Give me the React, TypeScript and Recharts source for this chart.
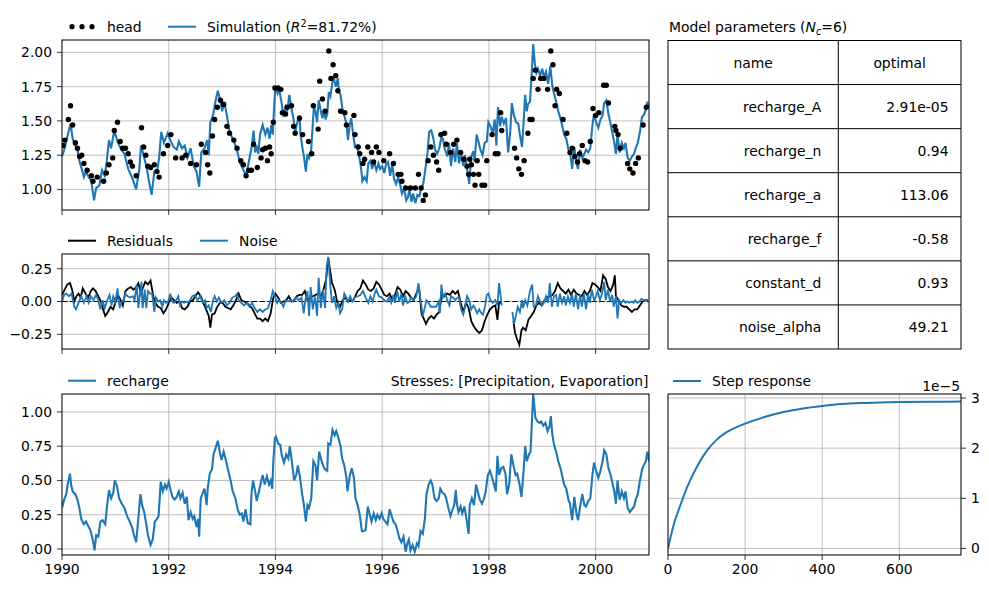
import {
  ComposedChart,
  LineChart,
  Line,
  Scatter,
  XAxis,
  YAxis,
  CartesianGrid,
  ReferenceLine,
} from "recharts";

type Pt = [number, number | null];

const BLUE = "#1f77b4";
const GRID = "#b0b0b0";
const FONT = "'DejaVu Sans', sans-serif";
const FS = 13.9;

// observed head (decimal year, m)
const headObs: Pt[] = [
  [1990.02, 1.32], [1990.05, 1.36], [1990.12, 1.51], [1990.16, 1.61], [1990.2, 1.47], [1990.25, 1.34],
  [1990.29, 1.3], [1990.33, 1.24], [1990.37, 1.25], [1990.41, 1.19], [1990.47, 1.14], [1990.55, 1.1],
  [1990.58, 1.06], [1990.66, 1.09], [1990.78, 1.06], [1990.83, 1.12], [1990.88, 1.18], [1990.95, 1.23],
  [1990.98, 1.43], [1991.04, 1.49], [1991.09, 1.35], [1991.14, 1.3], [1991.19, 1.3], [1991.24, 1.26],
  [1991.28, 1.2], [1991.32, 1.17], [1991.39, 1.1], [1991.49, 1.45], [1991.53, 1.31], [1991.57, 1.25],
  [1991.61, 1.17], [1991.66, 1.16], [1991.73, 1.18], [1991.78, 1.13], [1991.82, 1.09], [1991.9, 1.26],
  [1991.98, 1.32], [1992.04, 1.4], [1992.13, 1.23], [1992.25, 1.23], [1992.32, 1.25], [1992.41, 1.19],
  [1992.52, 1.18], [1992.61, 1.33], [1992.69, 1.27], [1992.73, 1.18], [1992.77, 1.12], [1992.82, 1.39],
  [1992.86, 1.51], [1992.91, 1.6], [1992.97, 1.65], [1993.03, 1.62], [1993.09, 1.46], [1993.14, 1.41],
  [1993.22, 1.36], [1993.28, 1.3], [1993.35, 1.21], [1993.4, 1.18], [1993.45, 1.1], [1993.5, 1.14],
  [1993.55, 1.14], [1993.59, 1.33], [1993.66, 1.16], [1993.73, 1.23], [1993.76, 1.29], [1993.81, 1.3],
  [1993.85, 1.21], [1993.89, 1.31], [1993.92, 1.26], [1993.96, 1.49], [1993.99, 1.74], [1994.05, 1.74],
  [1994.1, 1.73], [1994.13, 1.56], [1994.19, 1.55], [1994.22, 1.6], [1994.3, 1.61], [1994.34, 1.46],
  [1994.37, 1.41], [1994.45, 1.52], [1994.51, 1.4], [1994.62, 1.35], [1994.68, 1.26], [1994.71, 1.61],
  [1994.8, 1.44], [1994.83, 1.79], [1994.88, 1.66], [1994.93, 1.57], [1995.0, 2.01], [1995.04, 1.81],
  [1995.08, 1.91], [1995.13, 1.83], [1995.17, 1.72], [1995.22, 1.57], [1995.3, 1.56], [1995.33, 1.47],
  [1995.47, 1.54], [1995.49, 1.4], [1995.55, 1.31], [1995.58, 1.26], [1995.64, 1.19], [1995.67, 1.22],
  [1995.73, 1.31], [1995.8, 1.27], [1995.84, 1.2], [1995.89, 1.31], [1995.94, 1.27], [1996.03, 1.21],
  [1996.14, 1.26], [1996.21, 1.19], [1996.3, 1.11], [1996.35, 1.11], [1996.37, 1.06], [1996.44, 1.01],
  [1996.53, 1.01], [1996.62, 1.01], [1996.68, 1.11], [1996.73, 1.01], [1996.77, 0.92], [1996.81, 0.96],
  [1996.86, 1.21], [1996.91, 1.31], [1996.96, 1.25], [1997.02, 1.2], [1997.06, 1.14], [1997.1, 1.4],
  [1997.17, 1.41], [1997.2, 1.33], [1997.28, 1.27], [1997.34, 1.33], [1997.4, 1.36], [1997.47, 1.27],
  [1997.53, 1.22], [1997.59, 1.17], [1997.62, 1.11], [1997.64, 1.22], [1997.67, 1.18], [1997.71, 1.11],
  [1997.74, 1.03], [1997.78, 1.21], [1997.81, 1.11], [1997.87, 1.03], [1997.92, 1.03], [1997.96, 1.21],
  [1998.06, 1.4], [1998.12, 1.26], [1998.17, 1.26], [1998.22, 1.56], [1998.24, 1.43], [1998.48, 1.3],
  [1998.52, 1.23], [1998.56, 1.15], [1998.61, 1.11], [1998.66, 1.21], [1998.73, 1.41], [1998.77, 1.51],
  [1998.81, 1.51], [1998.83, 1.81], [1998.87, 1.87], [1998.92, 1.73], [1998.97, 1.81], [1999.03, 1.81],
  [1999.1, 1.73], [1999.16, 2.01], [1999.2, 1.91], [1999.24, 1.61], [1999.27, 1.73], [1999.32, 1.7],
  [1999.39, 1.51], [1999.46, 1.41], [1999.52, 1.27], [1999.56, 1.3], [1999.61, 1.24], [1999.66, 1.2],
  [1999.7, 1.26], [1999.75, 1.32], [1999.8, 1.21], [1999.85, 1.2], [1999.9, 1.35], [1999.95, 1.59],
  [2000.0, 1.54], [2000.06, 1.56], [2000.15, 1.76], [2000.2, 1.76], [2000.24, 1.63], [2000.36, 1.46],
  [2000.38, 1.43], [2000.42, 1.4], [2000.46, 1.3], [2000.6, 1.19], [2000.64, 1.15], [2000.7, 1.12],
  [2000.75, 1.19], [2000.8, 1.23], [2000.89, 1.47], [2000.95, 1.6],
];

// simulated head
const simulation: Pt[] = [
  [1990.0, 1.24], [1990.05, 1.3], [1990.11, 1.4], [1990.16, 1.48], [1990.2, 1.37], [1990.25, 1.32],
  [1990.29, 1.29], [1990.33, 1.2], [1990.37, 1.15], [1990.41, 1.09], [1990.45, 1.13], [1990.5, 1.09],
  [1990.55, 1.06], [1990.6, 0.92], [1990.64, 1.01], [1990.7, 1.03], [1990.75, 1.14], [1990.8, 1.1],
  [1990.84, 1.21], [1990.88, 1.36], [1990.92, 1.3], [1990.98, 1.43], [1991.04, 1.35], [1991.11, 1.29],
  [1991.17, 1.26], [1991.24, 1.15], [1991.32, 1.08], [1991.39, 1.0], [1991.45, 1.15], [1991.48, 1.32],
  [1991.53, 1.25], [1991.59, 1.15], [1991.63, 1.06], [1991.68, 0.96], [1991.73, 1.13], [1991.79, 1.15],
  [1991.82, 1.23], [1991.86, 1.42], [1991.91, 1.34], [1991.98, 1.41], [1992.04, 1.35], [1992.09, 1.31],
  [1992.15, 1.29], [1992.19, 1.35], [1992.25, 1.3], [1992.3, 1.32], [1992.35, 1.23], [1992.41, 1.3],
  [1992.47, 1.17], [1992.52, 1.13], [1992.57, 1.02], [1992.61, 1.27], [1992.67, 1.3], [1992.72, 1.36],
  [1992.75, 1.25], [1992.78, 1.49], [1992.83, 1.54], [1992.88, 1.65], [1992.92, 1.72], [1992.97, 1.64],
  [1993.0, 1.57], [1993.04, 1.64], [1993.09, 1.54], [1993.14, 1.42], [1993.22, 1.35], [1993.27, 1.3],
  [1993.33, 1.2], [1993.39, 1.15], [1993.45, 1.1], [1993.5, 1.2], [1993.56, 1.32], [1993.59, 1.43],
  [1993.62, 1.27], [1993.65, 1.32], [1993.68, 1.26], [1993.71, 1.4], [1993.76, 1.47], [1993.81, 1.4],
  [1993.85, 1.45], [1993.89, 1.37], [1993.92, 1.47], [1993.95, 1.4], [1993.98, 1.64], [1994.0, 1.75],
  [1994.04, 1.7], [1994.07, 1.73], [1994.12, 1.62], [1994.15, 1.53], [1994.19, 1.6], [1994.22, 1.57],
  [1994.26, 1.69], [1994.3, 1.59], [1994.34, 1.51], [1994.37, 1.42], [1994.41, 1.49], [1994.45, 1.54],
  [1994.47, 1.4], [1994.51, 1.29], [1994.53, 1.25], [1994.57, 1.13], [1994.6, 1.26], [1994.63, 1.23],
  [1994.67, 1.29], [1994.7, 1.48], [1994.72, 1.6], [1994.75, 1.57], [1994.78, 1.49], [1994.81, 1.65],
  [1994.84, 1.59], [1994.88, 1.52], [1994.91, 1.57], [1994.94, 1.51], [1994.97, 1.55], [1995.0, 1.71],
  [1995.03, 1.68], [1995.07, 1.79], [1995.09, 1.82], [1995.13, 1.75], [1995.17, 1.81], [1995.19, 1.71],
  [1995.22, 1.69], [1995.25, 1.6], [1995.29, 1.54], [1995.33, 1.48], [1995.36, 1.36], [1995.39, 1.47],
  [1995.42, 1.52], [1995.45, 1.42], [1995.49, 1.31], [1995.53, 1.32], [1995.56, 1.26], [1995.6, 1.17],
  [1995.63, 1.06], [1995.67, 1.09], [1995.71, 1.06], [1995.74, 1.19], [1995.78, 1.21], [1995.81, 1.15],
  [1995.85, 1.2], [1995.89, 1.14], [1995.93, 1.19], [1995.96, 1.15], [1996.0, 1.17], [1996.04, 1.12],
  [1996.07, 1.18], [1996.11, 1.2], [1996.15, 1.1], [1996.19, 1.19], [1996.22, 1.08], [1996.26, 1.04],
  [1996.3, 1.09], [1996.34, 1.03], [1996.37, 0.97], [1996.41, 1.01], [1996.45, 0.92], [1996.48, 0.94],
  [1996.51, 1.0], [1996.55, 0.91], [1996.58, 0.97], [1996.62, 0.9], [1996.66, 0.96], [1996.7, 0.95],
  [1996.73, 1.01], [1996.77, 1.04], [1996.81, 1.15], [1996.85, 1.27], [1996.88, 1.42], [1996.92, 1.43],
  [1996.96, 1.37], [1996.99, 1.29], [1997.03, 1.26], [1997.07, 1.3], [1997.11, 1.38], [1997.14, 1.37],
  [1997.17, 1.3], [1997.22, 1.24], [1997.25, 1.34], [1997.29, 1.17], [1997.33, 1.3], [1997.37, 1.2],
  [1997.4, 1.34], [1997.44, 1.19], [1997.48, 1.26], [1997.52, 1.17], [1997.55, 1.25], [1997.59, 1.15],
  [1997.63, 1.04], [1997.67, 1.24], [1997.71, 1.28], [1997.73, 1.2], [1997.77, 1.4], [1997.81, 1.34],
  [1997.84, 1.29], [1997.88, 1.25], [1997.92, 1.34], [1997.96, 1.35], [1997.99, 1.49], [1998.03, 1.46],
  [1998.07, 1.41], [1998.11, 1.51], [1998.14, 1.32], [1998.17, 1.6], [1998.21, 1.46], [1998.24, 1.53],
  [1998.28, 1.48], [1998.32, 1.52], [1998.36, 1.27], [1998.4, 1.42], [1998.43, 1.63], [1998.47, 1.54],
  [1998.51, 1.49], [1998.55, 1.48], [1998.58, 1.4], [1998.62, 1.31], [1998.65, 1.49], [1998.68, 1.69],
  [1998.71, 1.57], [1998.73, 1.62], [1998.77, 1.64], [1998.8, 1.83], [1998.83, 2.06], [1998.86, 1.92],
  [1998.89, 1.85], [1998.92, 1.88], [1998.96, 1.83], [1999.0, 1.88], [1999.03, 1.82], [1999.07, 1.86],
  [1999.11, 1.77], [1999.15, 1.9], [1999.19, 1.75], [1999.22, 1.7], [1999.26, 1.64], [1999.3, 1.57],
  [1999.34, 1.52], [1999.37, 1.47], [1999.41, 1.4], [1999.45, 1.37], [1999.49, 1.29], [1999.52, 1.27],
  [1999.56, 1.15], [1999.6, 1.31], [1999.64, 1.19], [1999.67, 1.15], [1999.71, 1.29], [1999.75, 1.23],
  [1999.79, 1.26], [1999.82, 1.29], [1999.86, 1.27], [1999.9, 1.3], [1999.94, 1.47], [1999.97, 1.55],
  [2000.01, 1.49], [2000.05, 1.45], [2000.09, 1.51], [2000.13, 1.54], [2000.16, 1.63], [2000.2, 1.65],
  [2000.24, 1.55], [2000.28, 1.48], [2000.31, 1.42], [2000.35, 1.34], [2000.38, 1.26], [2000.41, 1.4],
  [2000.45, 1.27], [2000.49, 1.34], [2000.53, 1.3], [2000.56, 1.34], [2000.6, 1.23], [2000.64, 1.21],
  [2000.68, 1.24], [2000.72, 1.26], [2000.75, 1.3], [2000.79, 1.34], [2000.83, 1.42], [2000.87, 1.53],
  [2000.9, 1.54], [2000.94, 1.58], [2000.97, 1.64], [2001.0, 1.59],
];

// residuals (observed - simulated); null marks the data gap in 1998
const residuals: Pt[] = [
  [1990.0, 0.05], [1990.05, 0.09], [1990.1, 0.13], [1990.15, 0.14], [1990.19, 0.09], [1990.23, 0.0],
  [1990.27, 0.04], [1990.31, 0.06], [1990.35, 0.03], [1990.39, 0.1], [1990.44, 0.06], [1990.49, 0.03],
  [1990.54, 0.08], [1990.58, 0.1], [1990.63, 0.08], [1990.68, 0.04], [1990.73, 0.0], [1990.77, -0.06],
  [1990.81, -0.11], [1990.86, -0.08], [1990.91, -0.04], [1990.96, -0.06], [1991.0, -0.01], [1991.05, 0.05],
  [1991.1, 0.01], [1991.14, -0.03], [1991.19, 0.08], [1991.24, 0.1], [1991.29, 0.11], [1991.34, 0.09],
  [1991.39, 0.11], [1991.43, 0.14], [1991.48, 0.06], [1991.51, 0.1], [1991.56, 0.15], [1991.61, 0.13],
  [1991.66, 0.16], [1991.71, 0.04], [1991.75, -0.01], [1991.8, -0.04], [1991.85, -0.05], [1991.9, -0.09],
  [1991.95, -0.06], [1992.0, -0.01], [1992.05, 0.03], [1992.1, 0.01], [1992.15, -0.01], [1992.2, 0.0],
  [1992.25, -0.05], [1992.3, -0.06], [1992.35, -0.04], [1992.4, 0.0], [1992.45, 0.01], [1992.5, 0.04],
  [1992.55, 0.07], [1992.6, 0.04], [1992.65, -0.01], [1992.7, -0.06], [1992.75, -0.11], [1992.78, -0.2],
  [1992.81, -0.1], [1992.86, -0.09], [1992.91, -0.04], [1992.96, -0.01], [1993.01, -0.01], [1993.06, -0.04],
  [1993.11, -0.05], [1993.16, -0.06], [1993.21, -0.03], [1993.26, 0.01], [1993.31, 0.06], [1993.36, 0.01],
  [1993.41, 0.0], [1993.46, -0.01], [1993.51, -0.03], [1993.56, -0.05], [1993.61, -0.09], [1993.66, -0.13],
  [1993.71, -0.13], [1993.76, -0.15], [1993.81, -0.13], [1993.86, -0.15], [1993.91, -0.09], [1993.96, 0.03],
  [1994.0, 0.06], [1994.05, 0.03], [1994.1, -0.01], [1994.15, 0.0], [1994.2, 0.01], [1994.25, 0.04],
  [1994.3, 0.0], [1994.35, 0.01], [1994.4, 0.04], [1994.45, 0.05], [1994.5, 0.05], [1994.55, 0.08],
  [1994.6, 0.01], [1994.65, 0.03], [1994.7, 0.04], [1994.75, 0.05], [1994.8, 0.06], [1994.85, 0.04],
  [1994.9, 0.09], [1994.95, 0.17], [1994.99, 0.33], [1995.03, 0.22], [1995.06, 0.14], [1995.11, 0.09],
  [1995.16, -0.01], [1995.21, -0.04], [1995.26, 0.01], [1995.31, 0.03], [1995.36, 0.0], [1995.41, 0.01],
  [1995.46, 0.01], [1995.54, 0.08], [1995.59, 0.1], [1995.64, 0.16], [1995.69, 0.13], [1995.74, 0.09],
  [1995.79, 0.08], [1995.84, 0.1], [1995.89, 0.15], [1995.94, 0.13], [1995.99, 0.09], [1996.04, 0.05],
  [1996.09, 0.04], [1996.14, 0.06], [1996.19, 0.01], [1996.24, 0.05], [1996.29, 0.11], [1996.34, 0.09],
  [1996.39, 0.04], [1996.44, 0.08], [1996.49, 0.06], [1996.54, 0.03], [1996.59, 0.01], [1996.64, 0.06],
  [1996.69, 0.11], [1996.74, -0.1], [1996.78, -0.13], [1996.82, -0.17], [1996.87, -0.13], [1996.92, -0.11],
  [1996.97, -0.13], [1997.02, -0.1], [1997.07, -0.08], [1997.12, 0.06], [1997.17, 0.04], [1997.22, 0.06],
  [1997.27, 0.05], [1997.32, 0.08], [1997.37, 0.06], [1997.42, 0.08], [1997.47, -0.01], [1997.52, -0.08],
  [1997.57, -0.01], [1997.62, -0.05], [1997.67, -0.15], [1997.72, -0.19], [1997.77, -0.22], [1997.82, -0.24],
  [1997.87, -0.22], [1997.92, -0.15], [1997.97, -0.1], [1998.02, -0.06], [1998.07, -0.04], [1998.12, -0.03],
  [1998.16, -0.14], [1998.19, -0.01], [1998.24, -0.01], [1998.34, null], [1998.46, -0.15], [1998.49, -0.24],
  [1998.53, -0.29], [1998.57, -0.33], [1998.61, -0.22], [1998.64, -0.2], [1998.69, -0.22], [1998.74, -0.14],
  [1998.79, -0.11], [1998.84, -0.08], [1998.89, -0.03], [1998.94, -0.01], [1998.99, -0.03], [1999.04, 0.01],
  [1999.09, 0.03], [1999.14, 0.04], [1999.19, 0.05], [1999.24, 0.08], [1999.29, 0.14], [1999.34, 0.1],
  [1999.39, 0.08], [1999.44, 0.06], [1999.49, 0.09], [1999.54, 0.05], [1999.59, 0.09], [1999.64, 0.06],
  [1999.69, 0.05], [1999.74, 0.04], [1999.79, 0.08], [1999.84, 0.05], [1999.89, 0.08], [1999.94, 0.14],
  [1999.99, 0.13], [2000.04, 0.11], [2000.09, 0.08], [2000.14, 0.2], [2000.19, 0.17], [2000.23, 0.11],
  [2000.28, 0.08], [2000.33, 0.13], [2000.36, 0.2], [2000.38, 0.04], [2000.43, 0.01], [2000.48, -0.03],
  [2000.53, -0.04], [2000.58, -0.04], [2000.63, -0.06], [2000.68, -0.08], [2000.73, -0.06], [2000.78, -0.06],
  [2000.83, -0.03], [2000.88, 0.0], [2000.93, 0.01], [2000.98, 0.01],
];

// noise model innovations
const noise: Pt[] = [
  [1990.0, 0.0], [1990.04, 0.05], [1990.08, 0.06], [1990.13, 0.04], [1990.18, 0.06], [1990.23, -0.04],
  [1990.26, -0.06], [1990.31, -0.01], [1990.36, 0.04], [1990.41, -0.01], [1990.46, 0.04], [1990.5, -0.01],
  [1990.54, 0.04], [1990.59, 0.01], [1990.64, 0.05], [1990.68, 0.01], [1990.72, -0.06], [1990.76, 0.01],
  [1990.8, -0.05], [1990.85, 0.01], [1990.89, 0.05], [1990.93, -0.03], [1990.96, 0.04], [1991.0, 0.0],
  [1991.04, 0.1], [1991.08, -0.05], [1991.11, -0.01], [1991.15, 0.01], [1991.19, 0.06], [1991.23, 0.04],
  [1991.28, 0.03], [1991.33, 0.04], [1991.36, 0.01], [1991.4, 0.13], [1991.43, -0.05], [1991.46, 0.05],
  [1991.49, 0.15], [1991.51, -0.05], [1991.55, 0.09], [1991.58, -0.05], [1991.61, 0.08], [1991.65, 0.06],
  [1991.69, 0.06], [1991.73, -0.08], [1991.76, 0.03], [1991.8, 0.0], [1991.84, 0.01], [1991.88, -0.04],
  [1991.91, 0.01], [1991.95, -0.01], [1991.99, 0.0], [1992.03, 0.06], [1992.06, 0.0], [1992.1, -0.01],
  [1992.14, 0.01], [1992.18, 0.04], [1992.21, -0.03], [1992.25, 0.0], [1992.29, -0.01], [1992.33, 0.0],
  [1992.36, -0.01], [1992.4, 0.01], [1992.44, 0.04], [1992.49, 0.05], [1992.54, 0.01], [1992.59, 0.04],
  [1992.64, -0.01], [1992.68, 0.01], [1992.71, -0.05], [1992.75, -0.03], [1992.79, -0.08], [1992.83, 0.01],
  [1992.86, 0.04], [1992.9, 0.0], [1992.94, 0.03], [1992.99, -0.01], [1993.04, 0.01], [1993.09, -0.03],
  [1993.14, -0.01], [1993.19, 0.03], [1993.24, 0.04], [1993.28, 0.06], [1993.31, 0.01], [1993.36, -0.01],
  [1993.41, -0.03], [1993.46, -0.01], [1993.51, -0.04], [1993.56, -0.01], [1993.61, -0.05], [1993.66, -0.08],
  [1993.71, -0.06], [1993.76, -0.08], [1993.81, -0.06], [1993.86, -0.05], [1993.91, 0.01], [1993.95, 0.08],
  [1993.99, 0.04], [1994.03, -0.01], [1994.06, 0.01], [1994.11, -0.01], [1994.15, -0.04], [1994.19, 0.01],
  [1994.24, 0.0], [1994.29, 0.01], [1994.34, 0.0], [1994.39, 0.03], [1994.44, 0.01], [1994.49, 0.03],
  [1994.53, -0.09], [1994.56, 0.01], [1994.6, 0.08], [1994.63, -0.11], [1994.66, 0.11], [1994.7, -0.06],
  [1994.74, 0.04], [1994.78, -0.11], [1994.81, 0.18], [1994.85, -0.05], [1994.89, 0.09], [1994.93, -0.05],
  [1994.96, 0.27], [1994.99, 0.34], [1995.03, 0.11], [1995.06, -0.01], [1995.1, 0.04], [1995.14, -0.05],
  [1995.18, -0.01], [1995.21, -0.09], [1995.25, -0.06], [1995.29, 0.06], [1995.33, 0.03], [1995.36, 0.0],
  [1995.4, 0.04], [1995.44, 0.0], [1995.48, 0.03], [1995.54, 0.04], [1995.59, 0.05], [1995.64, 0.08],
  [1995.69, 0.03], [1995.74, -0.01], [1995.78, 0.04], [1995.82, 0.0], [1995.86, 0.06], [1995.89, 0.09],
  [1995.94, 0.04], [1995.99, 0.03], [1996.04, 0.01], [1996.09, 0.0], [1996.13, 0.03], [1996.17, -0.01],
  [1996.21, 0.05], [1996.24, -0.01], [1996.28, 0.08], [1996.32, 0.0], [1996.36, 0.06], [1996.39, -0.03],
  [1996.43, 0.04], [1996.47, -0.01], [1996.51, 0.0], [1996.54, 0.03], [1996.59, 0.01], [1996.64, 0.04],
  [1996.68, 0.14], [1996.72, 0.01], [1996.76, -0.11], [1996.79, -0.06], [1996.83, 0.01], [1996.87, -0.01],
  [1996.91, -0.04], [1996.96, -0.04], [1997.01, -0.04], [1997.06, 0.0], [1997.08, -0.09], [1997.11, 0.13],
  [1997.14, 0.03], [1997.18, 0.06], [1997.22, 0.01], [1997.26, -0.03], [1997.29, 0.04], [1997.33, 0.03],
  [1997.37, 0.01], [1997.41, 0.03], [1997.44, 0.03], [1997.48, -0.06], [1997.52, -0.1], [1997.56, -0.03],
  [1997.59, 0.04], [1997.63, 0.01], [1997.67, -0.06], [1997.71, -0.03], [1997.74, -0.05], [1997.78, -0.09],
  [1997.82, -0.06], [1997.86, -0.09], [1997.89, -0.1], [1997.93, -0.03], [1997.96, 0.05], [1997.99, 0.06],
  [1998.03, 0.01], [1998.07, -0.01], [1998.12, 0.01], [1998.16, -0.03], [1998.19, 0.14], [1998.24, -0.03],
  [1998.34, null], [1998.44, -0.08], [1998.47, -0.17], [1998.51, -0.1], [1998.54, -0.04], [1998.58, -0.08],
  [1998.62, 0.01], [1998.64, -0.05], [1998.68, 0.01], [1998.72, -0.03], [1998.77, 0.08], [1998.81, 0.13],
  [1998.84, -0.04], [1998.88, -0.03], [1998.92, 0.04], [1998.96, 0.0], [1998.99, -0.03], [1999.03, -0.01],
  [1999.07, 0.04], [1999.11, -0.01], [1999.14, 0.14], [1999.18, -0.04], [1999.22, 0.04], [1999.26, 0.05],
  [1999.29, -0.04], [1999.33, 0.06], [1999.37, -0.01], [1999.41, 0.04], [1999.44, -0.03], [1999.48, 0.04],
  [1999.52, -0.01], [1999.56, 0.06], [1999.59, -0.04], [1999.63, 0.06], [1999.67, -0.06], [1999.71, 0.05],
  [1999.74, -0.04], [1999.78, 0.06], [1999.82, -0.06], [1999.86, 0.06], [1999.89, -0.01], [1999.93, 0.09],
  [1999.97, 0.01], [2000.01, 0.04], [2000.04, 0.08], [2000.08, 0.01], [2000.12, 0.06], [2000.16, 0.15],
  [2000.19, 0.01], [2000.23, 0.09], [2000.27, 0.0], [2000.31, 0.05], [2000.34, -0.04], [2000.38, 0.04],
  [2000.41, -0.13], [2000.44, 0.01], [2000.48, -0.01], [2000.52, 0.01], [2000.56, -0.01], [2000.59, 0.0],
  [2000.63, -0.01], [2000.67, 0.0], [2000.71, -0.01], [2000.74, 0.01], [2000.78, -0.01], [2000.82, 0.0],
  [2000.86, 0.02], [2000.89, 0.01], [2000.93, 0.01], [2000.98, 0.01],
];

// recharge contribution
const recharge: Pt[] = [
  [1990.0, 0.3], [1990.04, 0.36], [1990.08, 0.4], [1990.11, 0.48], [1990.15, 0.55], [1990.17, 0.47],
  [1990.2, 0.42], [1990.25, 0.4], [1990.29, 0.36], [1990.33, 0.29], [1990.36, 0.22], [1990.41, 0.18],
  [1990.45, 0.2], [1990.5, 0.16], [1990.53, 0.14], [1990.57, 0.08], [1990.61, -0.01], [1990.64, 0.1],
  [1990.68, 0.09], [1990.72, 0.2], [1990.76, 0.21], [1990.81, 0.18], [1990.84, 0.3], [1990.88, 0.43],
  [1990.92, 0.37], [1990.96, 0.41], [1990.99, 0.5], [1991.03, 0.46], [1991.07, 0.37], [1991.12, 0.33],
  [1991.17, 0.3], [1991.22, 0.24], [1991.27, 0.2], [1991.32, 0.15], [1991.35, 0.1], [1991.39, 0.05],
  [1991.43, 0.22], [1991.47, 0.4], [1991.5, 0.32], [1991.54, 0.27], [1991.58, 0.18], [1991.61, 0.1],
  [1991.66, 0.03], [1991.7, 0.07], [1991.74, 0.2], [1991.78, 0.22], [1991.81, 0.24], [1991.85, 0.49],
  [1991.89, 0.42], [1991.93, 0.47], [1991.96, 0.44], [1992.0, 0.49], [1992.04, 0.42], [1992.07, 0.38],
  [1992.11, 0.36], [1992.15, 0.38], [1992.19, 0.42], [1992.22, 0.37], [1992.26, 0.41], [1992.3, 0.33],
  [1992.34, 0.38], [1992.37, 0.21], [1992.41, 0.27], [1992.45, 0.22], [1992.48, 0.24], [1992.52, 0.16],
  [1992.55, 0.22], [1992.57, 0.09], [1992.6, 0.37], [1992.63, 0.4], [1992.67, 0.44], [1992.71, 0.32],
  [1992.73, 0.44], [1992.77, 0.55], [1992.81, 0.58], [1992.84, 0.69], [1992.88, 0.74], [1992.92, 0.79],
  [1992.96, 0.7], [1992.99, 0.65], [1993.03, 0.71], [1993.07, 0.65], [1993.11, 0.58], [1993.16, 0.5],
  [1993.2, 0.42], [1993.25, 0.37], [1993.29, 0.29], [1993.33, 0.25], [1993.37, 0.26], [1993.4, 0.2],
  [1993.44, 0.29], [1993.48, 0.19], [1993.53, 0.18], [1993.55, 0.4], [1993.58, 0.5], [1993.62, 0.42],
  [1993.65, 0.35], [1993.69, 0.42], [1993.73, 0.49], [1993.76, 0.54], [1993.8, 0.47], [1993.84, 0.53],
  [1993.88, 0.47], [1993.91, 0.5], [1993.94, 0.44], [1993.96, 0.64], [1993.99, 0.81], [1994.01, 0.82],
  [1994.05, 0.77], [1994.09, 0.76], [1994.12, 0.68], [1994.16, 0.63], [1994.2, 0.69], [1994.24, 0.66],
  [1994.27, 0.75], [1994.31, 0.63], [1994.35, 0.5], [1994.39, 0.54], [1994.42, 0.61], [1994.46, 0.52],
  [1994.5, 0.4], [1994.53, 0.33], [1994.57, 0.2], [1994.6, 0.32], [1994.63, 0.3], [1994.67, 0.37],
  [1994.71, 0.64], [1994.75, 0.61], [1994.78, 0.5], [1994.82, 0.71], [1994.86, 0.65], [1994.89, 0.61],
  [1994.93, 0.58], [1994.97, 0.57], [1994.99, 0.77], [1995.03, 0.76], [1995.07, 0.87], [1995.11, 0.83],
  [1995.14, 0.86], [1995.18, 0.81], [1995.22, 0.75], [1995.25, 0.66], [1995.29, 0.61], [1995.33, 0.52],
  [1995.35, 0.42], [1995.39, 0.53], [1995.43, 0.59], [1995.47, 0.52], [1995.5, 0.37], [1995.54, 0.32],
  [1995.58, 0.25], [1995.62, 0.13], [1995.65, 0.13], [1995.69, 0.14], [1995.73, 0.31], [1995.76, 0.26],
  [1995.8, 0.2], [1995.84, 0.26], [1995.88, 0.21], [1995.91, 0.25], [1995.95, 0.22], [1995.99, 0.26],
  [1996.02, 0.22], [1996.06, 0.2], [1996.1, 0.18], [1996.14, 0.29], [1996.17, 0.25], [1996.21, 0.2],
  [1996.25, 0.18], [1996.29, 0.13], [1996.32, 0.08], [1996.36, 0.05], [1996.4, 0.09], [1996.44, -0.02],
  [1996.47, 0.04], [1996.5, 0.07], [1996.53, -0.01], [1996.57, 0.03], [1996.61, -0.02], [1996.65, 0.04],
  [1996.68, 0.02], [1996.72, 0.13], [1996.76, 0.11], [1996.8, 0.22], [1996.83, 0.4], [1996.87, 0.47],
  [1996.91, 0.5], [1996.94, 0.47], [1996.98, 0.37], [1997.02, 0.35], [1997.06, 0.37], [1997.09, 0.44],
  [1997.13, 0.41], [1997.17, 0.4], [1997.2, 0.37], [1997.24, 0.3], [1997.28, 0.24], [1997.32, 0.29],
  [1997.35, 0.32], [1997.38, 0.43], [1997.4, 0.33], [1997.43, 0.27], [1997.47, 0.31], [1997.5, 0.26],
  [1997.54, 0.31], [1997.58, 0.22], [1997.62, 0.11], [1997.64, 0.32], [1997.68, 0.37], [1997.72, 0.32],
  [1997.76, 0.47], [1997.79, 0.42], [1997.83, 0.36], [1997.87, 0.33], [1997.91, 0.37], [1997.94, 0.42],
  [1997.98, 0.54], [1998.02, 0.57], [1998.06, 0.52], [1998.09, 0.48], [1998.13, 0.42], [1998.16, 0.68],
  [1998.19, 0.54], [1998.23, 0.59], [1998.27, 0.6], [1998.31, 0.55], [1998.34, 0.4], [1998.38, 0.47],
  [1998.42, 0.69], [1998.46, 0.61], [1998.5, 0.54], [1998.53, 0.55], [1998.57, 0.48], [1998.61, 0.38],
  [1998.65, 0.57], [1998.68, 0.75], [1998.71, 0.64], [1998.75, 0.69], [1998.78, 0.71], [1998.81, 0.96],
  [1998.83, 1.13], [1998.85, 1.05], [1998.87, 0.96], [1998.91, 0.93], [1998.95, 0.92], [1998.98, 0.93],
  [1999.02, 0.9], [1999.06, 0.92], [1999.1, 0.86], [1999.14, 0.9], [1999.16, 0.97], [1999.19, 0.83],
  [1999.22, 0.76], [1999.26, 0.71], [1999.3, 0.64], [1999.34, 0.59], [1999.37, 0.54], [1999.41, 0.47],
  [1999.45, 0.44], [1999.49, 0.36], [1999.52, 0.33], [1999.56, 0.21], [1999.6, 0.38], [1999.64, 0.26],
  [1999.67, 0.21], [1999.71, 0.31], [1999.75, 0.4], [1999.79, 0.32], [1999.82, 0.31], [1999.86, 0.35],
  [1999.9, 0.37], [1999.94, 0.54], [1999.97, 0.63], [2000.01, 0.57], [2000.05, 0.52], [2000.09, 0.57],
  [2000.13, 0.64], [2000.16, 0.72], [2000.2, 0.69], [2000.24, 0.59], [2000.28, 0.54], [2000.31, 0.49],
  [2000.35, 0.42], [2000.38, 0.33], [2000.41, 0.5], [2000.45, 0.36], [2000.49, 0.42], [2000.53, 0.37],
  [2000.56, 0.42], [2000.6, 0.3], [2000.64, 0.27], [2000.68, 0.29], [2000.72, 0.31], [2000.75, 0.36],
  [2000.79, 0.4], [2000.83, 0.5], [2000.87, 0.58], [2000.9, 0.61], [2000.94, 0.64], [2000.97, 0.71],
  [2001.0, 0.64],
];

// step response of the recharge stress, values in units of 1e-5
const stepLag = [0, 5, 10, 15, 25, 40, 50, 75, 100, 125, 150, 175, 200, 250, 300, 350, 400, 450, 500, 550, 600, 700, 760];
const stepValue = [0, 0.17, 0.33, 0.48, 0.71, 1.03, 1.23, 1.63, 1.94, 2.16, 2.31, 2.41, 2.49, 2.62, 2.72, 2.79, 2.84, 2.88, 2.9, 2.91, 2.92, 2.925, 2.93];

// optimal model parameters
const paramNames = ["recharge_A", "recharge_n", "recharge_a", "recharge_f", "constant_d", "noise_alpha"];
const paramOptimal = ["2.91e-05", "0.94", "113.06", "-0.58", "0.93", "49.21"];

// axis ticks
const yearTicks = [1990, 1992, 1994, 1996, 1998, 2000];
const headTicks = [1.0, 1.25, 1.5, 1.75, 2.0];
const resTicks = [-0.25, 0, 0.25];
const rchTicks = [0, 0.25, 0.5, 0.75, 1.0];
const stepXTicks = [0, 200, 400, 600];
const stepYTicks = [0, 1, 2, 3];

// plot areas in page pixels
const HEAD_BOX = { x: 62, y: 40, w: 587, h: 170 };
const RES_BOX = { x: 62, y: 254, w: 587, h: 95 };
const RCH_BOX = { x: 62, y: 394, w: 587, h: 161 };
const STEP_BOX = { x: 668, y: 394, w: 293, h: 161 };
const LEFT_W = 660;
const TOP_PAD = 24;

const rows = (pts: Pt[]) => pts.map(([t, v]) => ({ t, v }));
const stepRows = stepLag.map((t, i) => ({ t, v: stepValue[i] }));

const tickStyle = { fill: "#000", fontSize: FS, fontFamily: FONT };
const tickLineStyle = { stroke: "#000", strokeWidth: 0.8 };
const blank = () => "";
const fmt2 = (v: number) => (v < 0 ? "\u2212" + Math.abs(v).toFixed(2) : v.toFixed(2));

const dot = (p: any) => <circle cx={p.cx} cy={p.cy} r={2.7} fill="#000" />;

function timeAxis(labels: boolean) {
  return (
    <XAxis
      type="number"
      dataKey="t"
      domain={[1990, 2001]}
      ticks={yearTicks}
      interval={0}
      allowDataOverflow
      axisLine={false}
      tickLine={tickLineStyle}
      tickSize={5}
      tickMargin={4}
      tick={tickStyle}
      tickFormatter={labels ? (v: number) => String(v) : blank}
      height={labels ? 30 : 8}
    />
  );
}

function valueAxis(domain: [number, number], ticks: number[]) {
  return (
    <YAxis
      type="number"
      domain={domain}
      ticks={ticks}
      interval={0}
      allowDataOverflow
      width={62}
      axisLine={false}
      tickLine={tickLineStyle}
      tickSize={5}
      tickMargin={5}
      tick={tickStyle}
      tickFormatter={fmt2}
    />
  );
}

const leftMargin = { top: TOP_PAD, right: LEFT_W - 62 - 587, bottom: 0, left: 0 };

function Overlay() {
  const frames = [HEAD_BOX, RES_BOX, RCH_BOX, STEP_BOX];
  const tblX = 668;
  const tblY = 40.5;
  const tblW = 293;
  const tblH = 308.5;
  const colSplit = 838.3;
  const rowH = tblH / (paramNames.length + 1);
  return (
    <svg
      width={989}
      height={589}
      style={{ position: "absolute", left: 0, top: 0, pointerEvents: "none" }}
      fontFamily={FONT}
      fontSize={FS}
    >
      {frames.map((b, i) => (
        <rect key={i} x={b.x} y={b.y} width={b.w} height={b.h} fill="none" stroke="#000" strokeWidth={0.9} />
      ))}

      {/* head panel legend */}
      <circle cx={72} cy={26.7} r={2.6} fill="#000" />
      <circle cx={82} cy={26.7} r={2.6} fill="#000" />
      <circle cx={92} cy={26.7} r={2.6} fill="#000" />
      <text x={107} y={32}>head</text>
      <line x1={168} x2={196} y1={26.7} y2={26.7} stroke={BLUE} strokeWidth={2} />
      <text x={207} y={32}>
        Simulation (<tspan fontStyle="italic">R</tspan>
        <tspan fontSize={9.7} dy={-5.5}>2</tspan>
        <tspan dy={5.5}>=81.72%)</tspan>
      </text>

      {/* residual panel legend */}
      <line x1={68} x2={96} y1={240.7} y2={240.7} stroke="#000" strokeWidth={2} />
      <text x={107} y={246}>Residuals</text>
      <line x1={200} x2={228} y1={240.7} y2={240.7} stroke={BLUE} strokeWidth={2} />
      <text x={239} y={246}>Noise</text>

      {/* contribution panel legend and title */}
      <line x1={68} x2={96} y1={380.7} y2={380.7} stroke={BLUE} strokeWidth={2} />
      <text x={107} y={386}>recharge</text>
      <text x={648.5} y={386} textAnchor="end">Stresses: [Precipitation, Evaporation]</text>

      {/* step response legend and offset label */}
      <line x1={673} x2={701} y1={381} y2={381} stroke={BLUE} strokeWidth={2} />
      <text x={712} y={386}>Step response</text>
      <text x={960} y={391} textAnchor="end">1e{"\u2212"}5</text>

      {/* parameter table */}
      <text x={669} y={32}>
        Model parameters (<tspan fontStyle="italic">N</tspan>
        <tspan fontStyle="italic" fontSize={9.7} dy={3}>c</tspan>
        <tspan dy={-3}>=6)</tspan>
      </text>
      <rect x={tblX} y={tblY} width={tblW} height={tblH} fill="none" stroke="#000" strokeWidth={1} />
      <line x1={colSplit} x2={colSplit} y1={tblY} y2={tblY + tblH} stroke="#000" strokeWidth={1} />
      {paramNames.map((_, i) => (
        <line
          key={"r" + i}
          x1={tblX}
          x2={tblX + tblW}
          y1={tblY + rowH * (i + 1)}
          y2={tblY + rowH * (i + 1)}
          stroke="#000"
          strokeWidth={1}
        />
      ))}
      <text x={(tblX + colSplit) / 2} y={tblY + rowH / 2 + 5} textAnchor="middle">name</text>
      <text x={(colSplit + tblX + tblW) / 2} y={tblY + rowH / 2 + 5} textAnchor="middle">optimal</text>
      {paramNames.map((name, i) => (
        <text key={"n" + i} x={colSplit - 17} y={tblY + rowH * (i + 1.5) + 5} textAnchor="end">
          {name}
        </text>
      ))}
      {paramOptimal.map((val, i) => (
        <text key={"v" + i} x={tblX + tblW - 12.5} y={tblY + rowH * (i + 1.5) + 5} textAnchor="end">
          {val}
        </text>
      ))}
    </svg>
  );
}

export default function App() {
  return (
    <div
      style={{
        position: "absolute",
        left: 0,
        top: 0,
        width: 989,
        height: 589,
        background: "#fff",
        fontFamily: FONT,
        overflow: "hidden",
      }}
    >
      {/* observed vs simulated head */}
      <div style={{ position: "absolute", left: 0, top: HEAD_BOX.y - TOP_PAD }}>
        <ComposedChart width={LEFT_W} height={TOP_PAD + HEAD_BOX.h + 8} margin={leftMargin}>
          <CartesianGrid stroke={GRID} strokeWidth={0.8} />
          {timeAxis(false)}
          {valueAxis([0.85, 2.09], headTicks)}
          <Scatter data={rows(headObs)} dataKey="v" fill="#000" shape={dot} isAnimationActive={false} />
          <Line
            data={rows(simulation)}
            dataKey="v"
            stroke={BLUE}
            strokeWidth={2.1}
            dot={false}
            type="linear"
            isAnimationActive={false}
          />
        </ComposedChart>
      </div>

      {/* residuals and noise */}
      <div style={{ position: "absolute", left: 0, top: RES_BOX.y - TOP_PAD }}>
        <LineChart width={LEFT_W} height={TOP_PAD + RES_BOX.h + 8} margin={leftMargin}>
          <CartesianGrid stroke={GRID} strokeWidth={0.8} />
          {timeAxis(false)}
          {valueAxis([-0.362, 0.362], resTicks)}
          <ReferenceLine y={0} stroke="#000" strokeWidth={1} strokeDasharray="5.5 2.4" />
          <Line
            data={rows(residuals)}
            dataKey="v"
            stroke="#000"
            strokeWidth={1.8}
            dot={false}
            type="linear"
            isAnimationActive={false}
          />
          <Line
            data={rows(noise)}
            dataKey="v"
            stroke={BLUE}
            strokeWidth={1.8}
            dot={false}
            type="linear"
            isAnimationActive={false}
          />
        </LineChart>
      </div>

      {/* recharge contribution */}
      <div style={{ position: "absolute", left: 0, top: RCH_BOX.y - TOP_PAD }}>
        <LineChart width={LEFT_W} height={TOP_PAD + RCH_BOX.h + 30} margin={leftMargin}>
          <CartesianGrid stroke={GRID} strokeWidth={0.8} />
          {timeAxis(true)}
          {valueAxis([-0.044, 1.131], rchTicks)}
          <Line
            data={rows(recharge)}
            dataKey="v"
            stroke={BLUE}
            strokeWidth={2.1}
            dot={false}
            type="linear"
            isAnimationActive={false}
          />
        </LineChart>
      </div>

      {/* step response */}
      <div style={{ position: "absolute", left: STEP_BOX.x - 8, top: STEP_BOX.y - TOP_PAD }}>
        <LineChart
          width={8 + STEP_BOX.w + 28}
          height={TOP_PAD + STEP_BOX.h + 30}
          margin={{ top: TOP_PAD, right: 0, bottom: 0, left: 8 }}
          data={stepRows}
        >
          <CartesianGrid stroke={GRID} strokeWidth={0.8} />
          <XAxis
            type="number"
            dataKey="t"
            domain={[0, 760]}
            ticks={stepXTicks}
            interval={0}
            allowDataOverflow
            axisLine={false}
            tickLine={tickLineStyle}
            tickSize={5}
            tickMargin={4}
            tick={tickStyle}
            height={30}
          />
          <YAxis
            orientation="right"
            type="number"
            domain={[-0.13, 3.08]}
            ticks={stepYTicks}
            interval={0}
            allowDataOverflow
            width={28}
            axisLine={false}
            tickLine={tickLineStyle}
            tickSize={5}
            tickMargin={5}
            tick={tickStyle}
          />
          <Line dataKey="v" stroke={BLUE} strokeWidth={2} dot={false} type="monotone" isAnimationActive={false} />
        </LineChart>
      </div>

      <Overlay />
    </div>
  );
}
